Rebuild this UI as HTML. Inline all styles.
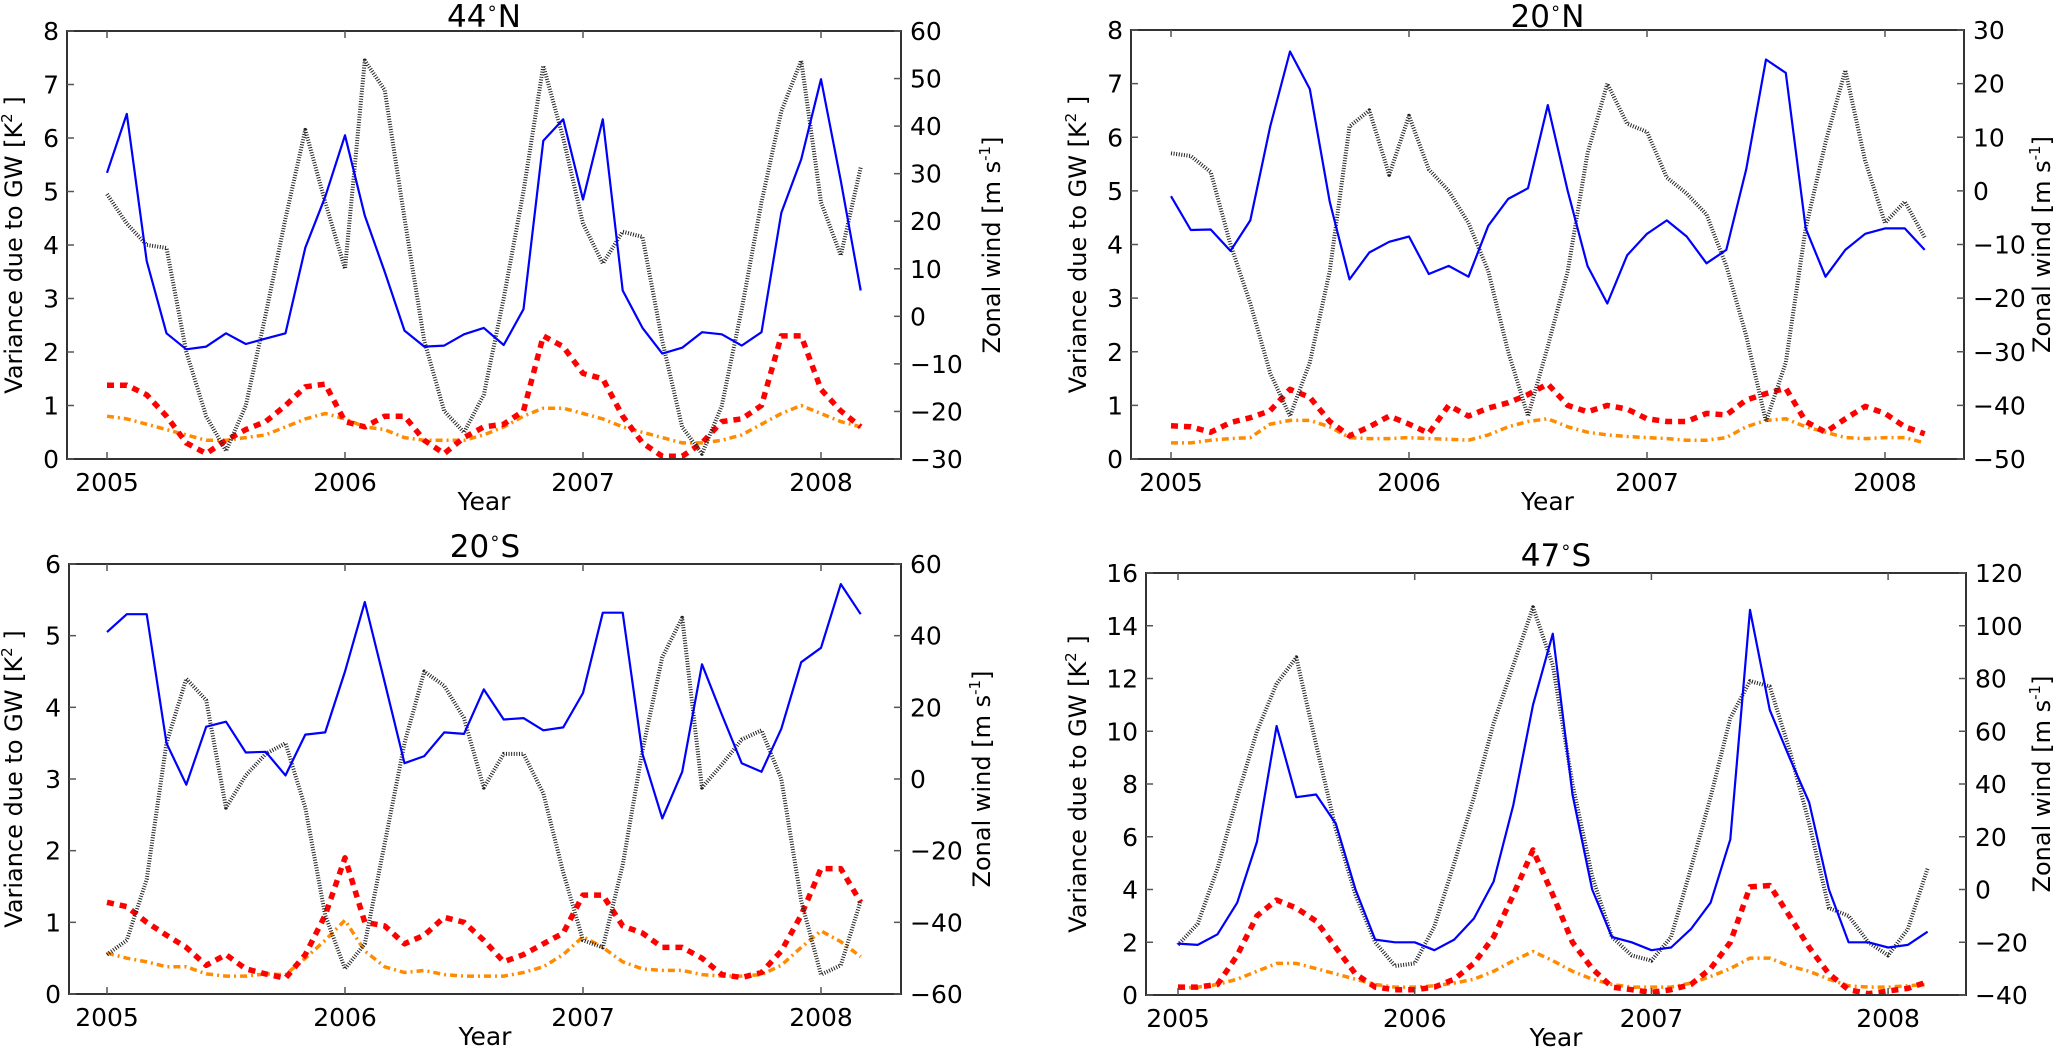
<!DOCTYPE html>
<html><head><meta charset="utf-8"><style>
html,body{margin:0;padding:0;background:#fff;}
svg{display:block;font-family:"DejaVu Sans","Liberation Sans",sans-serif;}
</style></head><body>
<svg id="fig" width="2067" height="1050" viewBox="0 0 2067 1050" xmlns="http://www.w3.org/2000/svg"></svg>
<script>
// ---- data: monthly Jan 2005 .. Mar 2008 ----
const monthsCount = 39;
const yearTicks = [2005, 2006, 2007, 2008];
// 44N
const n44Blue = [5.35,6.45,3.7,2.35,2.05,2.1,2.35,2.15,2.25,2.35,3.95,4.9, 6.05,4.55,3.5,2.4,2.1,2.12,2.33,2.45,2.13,2.8,5.95,6.35, 4.85,6.35,3.15,2.45,1.97,2.08,2.37,2.33,2.12,2.37,4.6,5.6, 7.1,5.2,3.15];
const n44Wind = [25.7,19.5,15,14.4,-7.5,-21,-28.3,-18.8,0.4,20.6,39.2,24, 10,53.8,47.6,20.6,-5.2,-19.9,-24.4,-16.5,3.8,26.3,52.7,37.5, 19.5,11.1,17.8,16.7,-5.2,-23.3,-28.9,-18.8,1.5,24,43.1,53.8, 24,12.8,31.3];
const n44Red = [1.38,1.38,1.2,0.8,0.3,0.1,0.35,0.55,0.7,1.0,1.35,1.4, 0.7,0.6,0.8,0.8,0.35,0.1,0.4,0.6,0.65,0.9,2.3,2.1, 1.6,1.5,0.8,0.3,0.05,0.05,0.3,0.7,0.75,1.0,2.3,2.3, 1.3,0.9,0.6];
const n44Orange = [0.8,0.75,0.65,0.55,0.45,0.35,0.35,0.4,0.45,0.6,0.75,0.85, 0.75,0.6,0.55,0.4,0.35,0.35,0.35,0.45,0.6,0.8,0.95,0.95, 0.85,0.75,0.6,0.5,0.4,0.3,0.3,0.35,0.45,0.65,0.85,1.0, 0.85,0.7,0.6];
// 20N
const n20Blue = [4.9,4.27,4.28,3.88,4.45,6.2,7.6,6.9,4.8,3.35,3.85,4.05, 4.15,3.45,3.6,3.4,4.35,4.85,5.05,6.6,5.0,3.6,2.9,3.8, 4.2,4.45,4.15,3.65,3.9,5.4,7.45,7.2,4.3,3.4,3.9,4.2, 4.3,4.3,3.9];
const n20Wind = [7,6.5,3.5,-10,-21,-34,-42,-32,-15,12,15,3, 14,4,0,-6,-15,-30,-42,-29,-15,7,20,12.5, 11,2.5,-0.5,-4.4,-14,-27,-43,-32,-7,9,22.5,5.6, -6,-2,-8.7];
const n20Red = [0.62,0.6,0.5,0.68,0.77,0.9,1.3,1.15,0.7,0.43,0.6,0.8, 0.65,0.48,1.0,0.8,0.95,1.05,1.2,1.4,1.0,0.88,1.0,0.93, 0.75,0.7,0.7,0.85,0.82,1.1,1.22,1.32,0.7,0.5,0.75,0.98, 0.85,0.6,0.47];
const n20Orange = [0.3,0.3,0.35,0.38,0.4,0.65,0.72,0.72,0.6,0.4,0.38,0.38, 0.4,0.38,0.37,0.35,0.45,0.6,0.7,0.75,0.6,0.5,0.45,0.42, 0.4,0.38,0.35,0.35,0.4,0.6,0.72,0.75,0.6,0.5,0.4,0.38, 0.4,0.4,0.3];
// 20S
const s20Blue = [5.05,5.3,5.3,3.5,2.92,3.73,3.8,3.37,3.38,3.05,3.62,3.65, 4.5,5.47,4.35,3.22,3.32,3.65,3.63,4.25,3.83,3.85,3.68,3.72, 4.2,5.32,5.32,3.35,2.45,3.1,4.6,3.9,3.22,3.1,3.7,4.63, 4.83,5.72,5.3];
const s20Wind = [-49,-45,-28,10,28,22,-8,1,7,10,-8,-38, -53,-46,-18,10,30,26,17,-2.4,7,7,-4,-26, -45,-47,-24,8,34,45,-2.4,4,11,13.6,0,-34, -54.6,-52,-34];
const s20Red = [1.28,1.22,1.0,0.82,0.65,0.4,0.55,0.35,0.28,0.22,0.55,1.1, 1.9,1.0,0.95,0.7,0.82,1.07,1.0,0.75,0.45,0.55,0.7,0.85, 1.38,1.38,0.95,0.85,0.65,0.65,0.5,0.27,0.23,0.3,0.6,1.1, 1.75,1.75,1.28];
const s20Orange = [0.57,0.5,0.45,0.38,0.38,0.28,0.25,0.25,0.28,0.27,0.5,0.75, 1.03,0.6,0.38,0.3,0.33,0.27,0.25,0.25,0.25,0.3,0.38,0.55, 0.8,0.65,0.45,0.35,0.33,0.33,0.27,0.25,0.25,0.27,0.4,0.65, 0.88,0.73,0.52];
// 47S
const s47Blue = [1.95,1.9,2.3,3.5,5.8,10.2,7.5,7.6,6.5,4.0,2.1,2.0, 2.0,1.7,2.1,2.9,4.3,7.2,11.0,13.7,7.6,4.0,2.2,2.0, 1.7,1.8,2.5,3.5,5.9,14.6,10.8,9.0,7.3,4.0,2.0,2.0, 1.8,1.9,2.4];
const s47Wind = [-21,-13,8,35,60,78,88,55,23,-2,-20,-29, -28,-14,10,35,63,85,107,85,40,5,-18,-25, -27,-18,8,35,65,79,77,53,25,-7,-10,-20, -25,-15,8];
const s47Red = [0.3,0.3,0.4,1.5,3.0,3.6,3.3,2.8,1.8,0.8,0.3,0.2, 0.2,0.3,0.6,1.2,2.2,3.8,5.5,3.8,2.0,1.0,0.3,0.2, 0.1,0.2,0.4,1.0,2.0,4.1,4.15,3.0,1.8,0.8,0.2,0.05, 0.15,0.25,0.5];
const s47Orange = [0.25,0.3,0.4,0.6,0.9,1.2,1.2,1.0,0.8,0.6,0.4,0.3, 0.3,0.35,0.45,0.6,0.9,1.3,1.65,1.3,0.9,0.6,0.4,0.3, 0.3,0.3,0.45,0.7,1.0,1.4,1.4,1.1,0.9,0.6,0.35,0.3, 0.3,0.35,0.4];
// axis ticks
const n44LeftTicks=[0,1,2,3,4,5,6,7,8], n44RightTicks=[-30,-20,-10,0,10,20,30,40,50,60];
const n20LeftTicks=[0,1,2,3,4,5,6,7,8], n20RightTicks=[-50,-40,-30,-20,-10,0,10,20,30];
const s20LeftTicks=[0,1,2,3,4,5,6], s20RightTicks=[-60,-40,-20,0,20,40,60];
const s47LeftTicks=[0,2,4,6,8,10,12,14,16], s47RightTicks=[-40,-20,0,20,40,60,80,100,120];

const NS="http://www.w3.org/2000/svg";
const svg=document.getElementById('fig');
function mk(tag,parent){const e=document.createElementNS(NS,tag);parent.appendChild(e);return e;}

const panels=[
 {key:'44n',title:'44',hemi:'N',L:67,R:901,T:31,B:459,x0:107,yp:238,ly:[0,8],ry:[-30,60],lt:n44LeftTicks,rt:n44RightTicks,blue:n44Blue,wind:n44Wind,red:n44Red,orange:n44Orange,titleY:27,ylabX:22,rlabX:1000},
 {key:'20n',title:'20',hemi:'N',L:1131,R:1964,T:30,B:459,x0:1171,yp:238,ly:[0,8],ry:[-50,30],lt:n20LeftTicks,rt:n20RightTicks,blue:n20Blue,wind:n20Wind,red:n20Red,orange:n20Orange,titleY:27,ylabX:1086,rlabX:2050},
 {key:'20s',title:'20',hemi:'S',L:69,R:901,T:564,B:994,x0:107,yp:238,ly:[0,6],ry:[-60,60],lt:s20LeftTicks,rt:s20RightTicks,blue:s20Blue,wind:s20Wind,red:s20Red,orange:s20Orange,titleY:557,ylabX:22,rlabX:990},
 {key:'47s',title:'47',hemi:'S',L:1146,R:1966,T:573,B:995,x0:1178,yp:236.7,ly:[0,16],ry:[-40,120],lt:s47LeftTicks,rt:s47RightTicks,blue:s47Blue,wind:s47Wind,red:s47Red,orange:s47Orange,titleY:566,ylabX:1086,rlabX:2050}
];

panels.forEach(p=>{
  const g=mk('g',svg);
  
  
  const xs=y=>p.x0+(y-2005)*p.yp;
  const yl=v=>p.B-(v-p.ly[0])/(p.ly[1]-p.ly[0])*(p.B-p.T);
  const yr=v=>p.B-(v-p.ry[0])/(p.ry[1]-p.ry[0])*(p.B-p.T);
  const cx=(p.L+p.R)/2;
  const cp=mk('clipPath',g); cp.setAttribute('id','clip'+p.key);
  const cr=mk('rect',cp); cr.setAttribute('x',p.L);cr.setAttribute('y',p.T);cr.setAttribute('width',p.R-p.L);cr.setAttribute('height',p.B-p.T);
  function series(arr,scale,color,w,dash,name){
    const pts=arr.map((v,i)=>xs(2005+i/12).toFixed(1)+','+scale(v).toFixed(1)).join(' ');
    const pl=mk('polyline',g);
    
    
    pl.setAttribute('points',pts);pl.setAttribute('fill','none');pl.setAttribute('stroke',color);
    pl.setAttribute('stroke-width',w);pl.setAttribute('stroke-linejoin','round');
    pl.setAttribute('clip-path','url(#clip'+p.key+')');
    if(dash)pl.setAttribute('stroke-dasharray',dash);
  }
  series(p.orange,yl,'#ff8c00',3.5,'7 4 2 4','orange-series-line');
  series(p.red,yl,'#ff0000',5.5,'7 6','red-series-line');
  series(p.wind,yr,'#222222',4,'1 1.6','zonal-wind-line');
  series(p.blue,yl,'#0000ff',2.2,null,'blue-variance-line');
  const fr=mk('rect',g);
  
  
  fr.setAttribute('x',p.L);fr.setAttribute('y',p.T);fr.setAttribute('width',p.R-p.L);fr.setAttribute('height',p.B-p.T);
  fr.setAttribute('fill','none');fr.setAttribute('stroke','#333');fr.setAttribute('stroke-width',2);
  function line(x1,y1,x2,y2){const l=mk('line',g);l.setAttribute('x1',x1);l.setAttribute('y1',y1);l.setAttribute('x2',x2);l.setAttribute('y2',y2);l.setAttribute('stroke','#555');l.setAttribute('stroke-width',1.5);return l;}
  function text(x,y,s,size,anchor,name){const t=mk('text',g);t.setAttribute('x',x);t.setAttribute('y',y);t.setAttribute('font-size',size);t.setAttribute('text-anchor',anchor);t.setAttribute('fill','#000');t.textContent=s;
    
    
    return t;}
  yearTicks.forEach(yv=>{const x=xs(yv);line(x,p.B,x,p.B-7);line(x,p.T,x,p.T+7);text(x,p.B+32,String(yv),25,'middle','x-tick-label');});
  p.lt.forEach(v=>{const y=yl(v);line(p.L,y,p.L+7,y);text(p.L-8,y+9,String(v),25,'end','left-tick-label');});
  p.rt.forEach(v=>{const y=yr(v);line(p.R,y,p.R-7,y);text(p.R+9,y+9,String(v).replace('-','\u2212'),25,'start','right-tick-label');});
  text(cx,p.B+51,'Year',25,'middle','x-axis-title');
  const tt=text(cx,p.titleY,p.title,31,'middle','panel-title');
  const ts=mk('tspan',tt);ts.setAttribute('font-size',18);ts.setAttribute('dy',-13);ts.textContent='\u2218';
  const ts2=mk('tspan',tt);ts2.setAttribute('dy',13);ts2.textContent=p.hemi;
  const ylab=text(0,0,'Variance due to GW [K',24,'middle','left-y-axis-title');
  ylab.setAttribute('transform','translate('+p.ylabX+','+((p.T+p.B)/2)+') rotate(-90)');
  const s1=mk('tspan',ylab);s1.setAttribute('font-size',15);s1.setAttribute('dy',-10);s1.textContent='2';
  const s2=mk('tspan',ylab);s2.setAttribute('dy',10);s2.textContent=' ]';
  const rlab=text(0,0,'Zonal wind [m s',24,'middle','right-y-axis-title');
  rlab.setAttribute('transform','translate('+p.rlabX+','+((p.T+p.B)/2)+') rotate(-90)');
  const r1=mk('tspan',rlab);r1.setAttribute('font-size',15);r1.setAttribute('dy',-10);r1.textContent='-1';
  const r2=mk('tspan',rlab);r2.setAttribute('dy',10);r2.textContent=']';
});
</script>
</body></html>
